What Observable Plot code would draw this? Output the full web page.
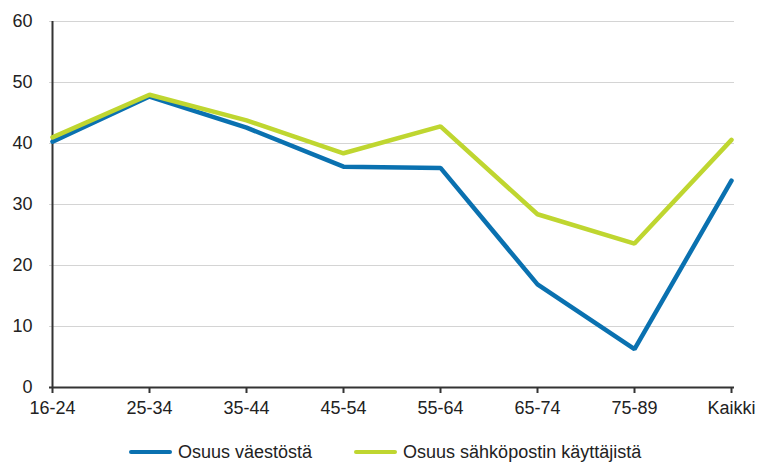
<!DOCTYPE html>
<html>
<head>
<meta charset="utf-8">
<script src="https://cdn.jsdelivr.net/npm/d3@7"></script>
<script src="https://cdn.jsdelivr.net/npm/@observablehq/plot@0.6"></script>
<style>
  body { margin: 0; background: #fff; font-family: "Liberation Sans", Arial, sans-serif; }
  #legend { display: flex; align-items: center; margin-left: 129px; margin-top: 17px; font-size: 18px; color: #222; height: 20px; }
  .sw { display: inline-block; width: 43px; height: 4px; border-radius: 2px; margin-right: 6px; }
  .item { display: flex; align-items: center; margin-right: 42px; }
</style>
</head>
<body>
<div id="chart"></div>
<div id="legend"></div>
<script>
const categories = ["16-24", "25-34", "35-44", "45-54", "55-64", "65-74", "75-89", "Kaikki"];
const seriesNames = ["Osuus väestöstä", "Osuus sähköpostin käyttäjistä"];
const valuesPopulation = [40.3, 47.7, 42.6, 36.2, 36.0, 16.9, 6.3, 33.9];
const valuesEmailUsers = [41.0, 48.0, 43.8, 38.4, 42.8, 28.4, 23.6, 40.6];
const colors = ["#0a71b0", "#bfd630"];
const yTicks = [0, 10, 20, 30, 40, 50, 60];

const data = [];
categories.forEach((c, i) => {
  data.push({cat: c, value: valuesPopulation[i], series: seriesNames[0]});
  data.push({cat: c, value: valuesEmailUsers[i], series: seriesNames[1]});
});

const chart = Plot.plot({
  width: 763,
  height: 425,
  marginLeft: 49,
  marginRight: 29,
  marginTop: 21,
  marginBottom: 38,
  style: {fontFamily: '"Liberation Sans", Arial, sans-serif', fontSize: "18px", color: "#222", background: "#fff"},
  x: {type: "point", domain: categories, padding: 0, label: null},
  y: {domain: [0, 60], label: null},
  color: {domain: seriesNames, range: colors},
  marks: [
    Plot.ruleY(yTicks.filter(d => d > 0), {stroke: "#d4d4d4", strokeWidth: 1}),
    Plot.axisY(yTicks, {tickSize: 0, tickPadding: 17, label: null, fontSize: 18}),
    Plot.axisX({tickSize: 6, tickPadding: 8, label: null, stroke: "#333", strokeWidth: 2, fontSize: 18}),
    Plot.ruleX([categories[0]], {stroke: "#333", strokeWidth: 2}),
    Plot.ruleY([0], {stroke: "#333", strokeWidth: 2}),
    Plot.line(data, {x: "cat", y: "value", z: "series", stroke: "series", strokeWidth: 4.5, strokeLinejoin: "miter"})
  ]
});
document.getElementById("chart").appendChild(chart);

const legend = document.getElementById("legend");
seriesNames.forEach((n, i) => {
  const item = document.createElement("div");
  item.className = "item";
  const sw = document.createElement("span");
  sw.className = "sw";
  sw.style.background = colors[i];
  item.appendChild(sw);
  item.appendChild(document.createTextNode(n));
  legend.appendChild(item);
});
</script>
</body>
</html>
